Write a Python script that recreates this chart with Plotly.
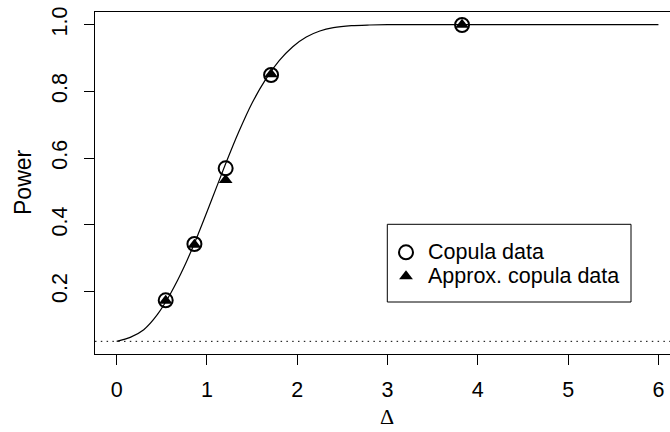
import plotly.graph_objects as go

# ---- data ----
delta_curve = [0.0, 0.15, 0.3, 0.45, 0.6, 0.75, 0.9, 1.05, 1.2, 1.35, 1.5, 1.65,
               1.8, 1.95, 2.1, 2.25, 2.4, 2.6, 2.8, 3.0, 3.5, 4.0, 5.0, 6.0]
power_curve = [0.05, 0.062, 0.085, 0.13, 0.195, 0.275, 0.37, 0.473, 0.578, 0.677,
               0.765, 0.836, 0.892, 0.934, 0.963, 0.981, 0.991, 0.997, 0.999, 1.0,
               1.0, 1.0, 1.0, 1.0]
delta_pts = [0.543, 0.861, 1.207, 1.71, 3.825]
power_copula = [0.173, 0.342, 0.569, 0.849, 0.999]
power_approx = [0.172, 0.340, 0.534, 0.851, 1.0]
alpha_level = 0.05
x_ticks = [0, 1, 2, 3, 4, 5, 6]
y_ticks = [0.2, 0.4, 0.6, 0.8, 1.0]
y_tick_labels = ["0.2", "0.4", "0.6", "0.8", "1.0"]
legend_labels = ["Copula data", "Approx. copula data"]

# ---- layout constants (pixels) ----
W, H = 670, 432
ML, MR, MT, MB = 95, 0, 12, 78
PW, PH = W - ML - MR, H - MT - MB


def px_x(px):
    return (px - ML) / PW


def px_y(py):
    return (H - MB - py) / PH


SANS = "Liberation Sans, Arial, Helvetica, sans-serif"
SERIF = "Liberation Serif, Times New Roman, serif"

CIRCLE = dict(symbol="circle-open", size=14, color="black", line=dict(color="black", width=2))
TRIANGLE = dict(symbol="triangle-up", size=12, color="black")

fig = go.Figure()
fig.add_trace(go.Scatter(x=delta_curve, y=power_curve, mode="lines",
                         line=dict(color="black", width=1.2, shape="spline", smoothing=0.8),
                         showlegend=False, hoverinfo="skip"))
fig.add_trace(go.Scatter(x=delta_pts, y=power_copula, mode="markers", name=legend_labels[0],
                         marker=CIRCLE, showlegend=False))
fig.add_trace(go.Scatter(x=delta_pts, y=power_approx, mode="markers", name=legend_labels[1],
                         marker=TRIANGLE, showlegend=False))

fig.add_shape(type="line", xref="paper", x0=0, x1=1, yref="y", y0=alpha_level, y1=alpha_level,
              line=dict(color="black", width=1, dash="1.5px,4.3px"))

# ---- legend box (drawn by hand to match the R legend) ----
LEG_BOX = (387.3, 224.3, 631.0, 302.0)
LEG_SYM_X = 406.0
LEG_TXT_X = 426.0
LEG_ROWS = [252.3, 276.3]
fig.add_shape(type="rect", xref="paper", yref="paper",
              x0=px_x(LEG_BOX[0]), x1=px_x(LEG_BOX[2]),
              y0=px_y(LEG_BOX[3]), y1=px_y(LEG_BOX[1]),
              line=dict(color="black", width=1), fillcolor="white", layer="below")
for lbl, row, mk in zip(legend_labels, LEG_ROWS, [CIRCLE, TRIANGLE]):
    fig.add_trace(go.Scatter(x=[LEG_SYM_X - ML], y=[row - MT], xaxis="x2", yaxis="y2",
                             mode="markers", marker=mk, showlegend=False, hoverinfo="skip"))
    fig.add_annotation(text=lbl, xref="paper", yref="paper", x=px_x(LEG_TXT_X), y=px_y(row),
                       showarrow=False, xanchor="left", yanchor="middle",
                       font=dict(family=SANS, size=21.5, color="black"))

fig.add_annotation(text="Power", xref="paper", yref="paper", x=px_x(23), y=px_y(182),
                   showarrow=False, textangle=-90, font=dict(family=SANS, size=23, color="black"),
                   xanchor="center", yanchor="middle")
fig.add_annotation(text="Δ", xref="paper", yref="paper", x=px_x(387), y=px_y(417),
                   showarrow=False, font=dict(family=SERIF, size=22, color="black"),
                   xanchor="center", yanchor="middle")

fig.update_layout(
    width=W, height=H, autosize=False,
    margin=dict(l=ML, r=MR, t=MT, b=MB, pad=0),
    paper_bgcolor="white", plot_bgcolor="white",
    font=dict(family=SANS, size=21.5, color="black"),
    showlegend=False,
    xaxis=dict(range=[-0.24, 6.128], tickmode="array", tickvals=x_ticks,
               ticktext=[str(t) for t in x_ticks],
               showgrid=False, zeroline=False, showline=True, mirror=True,
               linecolor="black", linewidth=1, ticks="outside", ticklen=10,
               tickwidth=1, tickcolor="black", ticklabelstandoff=6),
    yaxis=dict(range=[0.012, 1.038], tickmode="array", tickvals=y_ticks,
               ticktext=y_tick_labels, tickangle=-90,
               showgrid=False, zeroline=False, showline=True, mirror=False,
               linecolor="black", linewidth=1, ticks="outside", ticklen=10,
               tickwidth=1, tickcolor="black", ticklabelstandoff=8),
    xaxis2=dict(overlaying="x", range=[0, PW], visible=False, fixedrange=True),
    yaxis2=dict(overlaying="y", range=[PH, 0], visible=False, fixedrange=True),
)

fig.write_html("out.html")
